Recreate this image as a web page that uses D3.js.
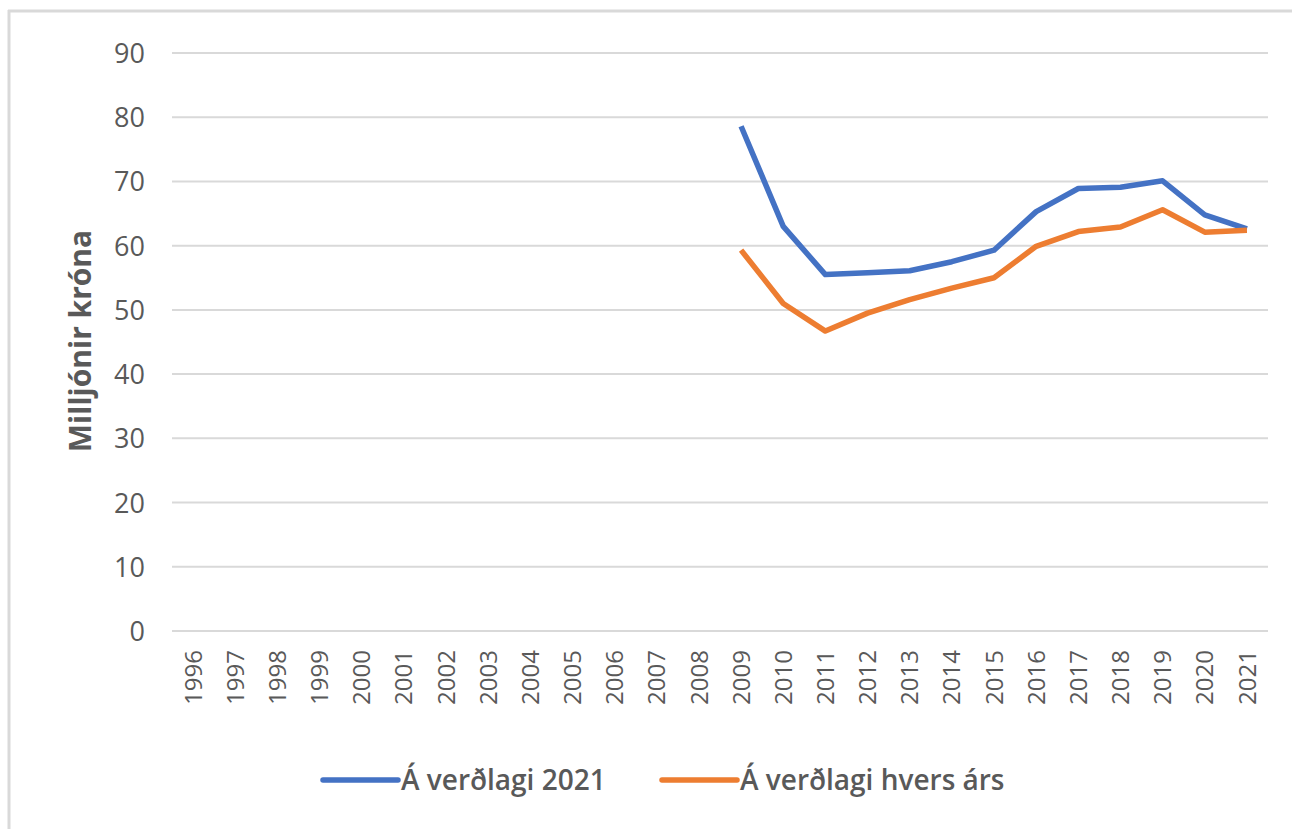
<!DOCTYPE html>
<html><head><meta charset="utf-8">
<script src="https://cdn.jsdelivr.net/npm/d3@7"></script>
<style>
body{margin:0;background:#fff;}
svg text{font-family:"Open Sans",Lato,sans-serif;}
</style></head>
<body>
<svg id="c" width="1295" height="829"></svg>
<script>
const years = ["1996","1997","1998","1999","2000","2001","2002","2003","2004","2005","2006","2007","2008","2009","2010","2011","2012","2013","2014","2015","2016","2017","2018","2019","2020","2021"];
const serie2021 = [null,null,null,null,null,null,null,null,null,null,null,null,null,78.6,63.0,55.5,55.8,56.1,57.5,59.3,65.3,68.9,69.1,70.1,64.8,62.6];
const serieArs = [null,null,null,null,null,null,null,null,null,null,null,null,null,59.3,51.0,46.7,49.5,51.6,53.4,55.0,59.9,62.2,62.9,65.6,62.1,62.4];
const yTicks = [0,10,20,30,40,50,60,70,80,90];
const seriesNames = ["Á verðlagi 2021","Á verðlagi hvers árs"];
const colors = ["#4472C4","#ED7D31"];

(function(){
const svg = d3.select("#c");
svg.append("line").attr("x1",8).attr("x2",1292).attr("y1",11).attr("y2",11).attr("stroke","#d9d9d9").attr("stroke-width",3);
svg.append("line").attr("x1",9).attr("x2",9).attr("y1",10).attr("y2",829).attr("stroke","#d9d9d9").attr("stroke-width",3);

const pl=172, pr=1268, pt=53, pb=631;
const x = d3.scaleBand().domain(years).range([pl,pr]);
const y = d3.scaleLinear().domain([0,90]).range([pb,pt]);

svg.append("g").selectAll("line").data(yTicks).join("line")
  .attr("x1",pl).attr("x2",pr).attr("y1",d=>y(d)).attr("y2",d=>y(d))
  .attr("stroke","#d9d9d9").attr("stroke-width",2);

const ya = svg.append("g").attr("transform",`translate(${pl},0)`)
  .call(d3.axisLeft(y).tickValues(yTicks).tickSize(0).tickPadding(27));
ya.select(".domain").remove();
ya.selectAll("text").attr("fill","#595959").style("font-size","27px").attr("dy","0.35em");

const xa = svg.append("g").attr("transform",`translate(0,${pb})`)
  .call(d3.axisBottom(x).tickSize(0));
xa.select(".domain").remove();
xa.selectAll("text").attr("fill","#595959").style("font-size","24px")
  .attr("transform","rotate(-90)").attr("text-anchor","end")
  .attr("x",-19).attr("y",0).attr("dy","0.36em");

svg.append("text").attr("transform","translate(80,341) rotate(-90)")
  .attr("text-anchor","middle").attr("dy","0.35em")
  .attr("fill","#595959").style("font-size","30px").style("font-weight","bold")
  .text("Milljónir króna");

const line = d3.line().defined(d=>d.v!=null).x(d=>x(d.year)+x.bandwidth()/2).y(d=>y(d.v));
[serie2021, serieArs].forEach((s,i)=>{
  const data = years.map((yr,j)=>({year:yr,v:s[j]}));
  svg.append("path").datum(data).attr("d",line).attr("fill","none")
    .attr("stroke",colors[i]).attr("stroke-width",5.5).attr("stroke-linejoin","round");
});

const legX = [323, 662];
seriesNames.forEach((n,i)=>{
  svg.append("line").attr("x1",legX[i]).attr("x2",legX[i]+75).attr("y1",780).attr("y2",780)
    .attr("stroke",colors[i]).attr("stroke-width",5.5).attr("stroke-linecap","round");
  svg.append("text").attr("x",legX[i]+78).attr("y",780).attr("dy","0.35em")
    .attr("fill","#595959").style("font-size","28px").style("font-weight","600").text(n);
});
})();
</script>
</body></html>
